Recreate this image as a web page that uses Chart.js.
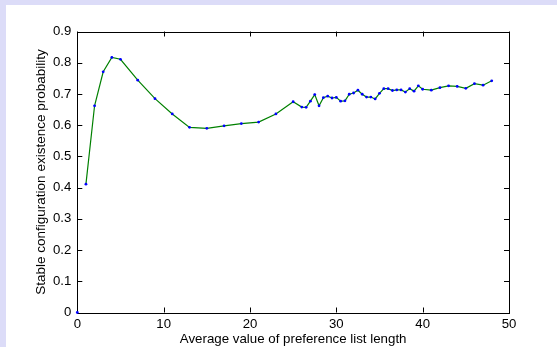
<!DOCTYPE html>
<html>
<head>
<meta charset="utf-8">
<script src="https://cdn.jsdelivr.net/npm/chart.js"></script>
<style>
  html, body { margin: 0; padding: 0; background: #dcdcf8; width: 557px; height: 347px; overflow: hidden; }
  #wrap { position: absolute; left: 6px; top: 5px; width: 551px; height: 342px; background: #fff; }
</style>
</head>
<body>
<div id="wrap"><canvas id="chart" width="551" height="342"></canvas></div>
<script>
// average preference list length (x) and probability (y)
const listLength = [1, 2, 3, 4, 5, 7, 9, 11, 13, 15, 17, 19, 21, 23, 25, 26, 26.5, 27, 27.5, 28,
  28.5, 29, 29.5, 30, 30.5, 31, 31.5, 32, 32.5, 33, 33.5, 34, 34.5, 35, 35.5, 36, 36.5, 37,
  37.5, 38, 38.5, 39, 39.5, 40, 41, 42, 43, 44, 45, 46, 47, 48];
const probability = [0.411, 0.662, 0.771, 0.817, 0.811, 0.744, 0.685, 0.636, 0.593, 0.590, 0.598,
  0.605, 0.610, 0.636, 0.675, 0.658, 0.657, 0.677, 0.698, 0.662, 0.688, 0.693, 0.687, 0.689,
  0.677, 0.678, 0.699, 0.703, 0.712, 0.699, 0.690, 0.690, 0.684, 0.702, 0.717, 0.717, 0.711,
  0.713, 0.713, 0.706, 0.717, 0.709, 0.726, 0.715, 0.712, 0.720, 0.726, 0.724, 0.718, 0.733,
  0.728, 0.742];
// lone marker at the origin
const originX = [0];
const originY = [0];

const xTicks = [0, 10, 20, 30, 40, 50];
const yTicks = [0, 0.1, 0.2, 0.3, 0.4, 0.5, 0.6, 0.7, 0.8, 0.9];

const FONT = "'Liberation Sans', Arial, Helvetica, sans-serif";

// box around plot + inward tick marks on all four sides
const boxTicks = {
  id: 'boxTicks',
  beforeDatasetsDraw(chart) {
    const { ctx, chartArea: a, scales: { x, y } } = chart;
    const len = 5;
    ctx.save();
    ctx.strokeStyle = '#000';
    ctx.lineWidth = 1;
    ctx.strokeRect(Math.round(a.left) + 0.5, Math.round(a.top) + 0.5,
      Math.round(a.right - a.left), Math.round(a.bottom - a.top));
    ctx.beginPath();
    xTicks.forEach(v => {
      const px = Math.round(x.getPixelForValue(v)) + 0.5;
      ctx.moveTo(px, a.bottom); ctx.lineTo(px, a.bottom - len);
      ctx.moveTo(px, a.top); ctx.lineTo(px, a.top + len);
    });
    yTicks.forEach(v => {
      const py = Math.round(y.getPixelForValue(v)) + 0.5;
      ctx.moveTo(a.left, py); ctx.lineTo(a.left + len, py);
      ctx.moveTo(a.right, py); ctx.lineTo(a.right - len, py);
    });
    ctx.stroke();
    ctx.restore();
  }
};

const ctx = document.getElementById('chart').getContext('2d');
new Chart(ctx, {
  type: 'line',
  data: {
    datasets: [
      {
        data: listLength.map((v, i) => ({ x: v, y: probability[i] })),
        borderColor: '#008000',
        borderWidth: 1.2,
        pointBackgroundColor: '#0000ff',
        pointBorderWidth: 0,
        pointRadius: 1.4,
        tension: 0,
        fill: false
      },
      {
        data: originX.map((v, i) => ({ x: v, y: originY[i] })),
        showLine: false,
        pointBackgroundColor: '#0000ff',
        pointBorderWidth: 0,
        pointRadius: 1.4,
        clip: false
      }
    ]
  },
  options: {
    responsive: false,
    animation: false,
    devicePixelRatio: 1,
    layout: { padding: { top: 26.5, right: 48, left: 0, bottom: 0 } },
    plugins: { legend: { display: false }, tooltip: { enabled: false } },
    scales: {
      x: {
        type: 'linear',
        min: 0, max: 50,
        afterFit(s) { s.height = 34.5; },
        afterBuildTicks(s) { s.ticks = xTicks.map(v => ({ value: v })); },
        grid: { display: false, drawTicks: false, tickLength: 0 },
        border: { display: false },
        ticks: { color: '#000', padding: 4, font: { family: FONT, size: 13.2 } },
        title: {
          display: true,
          text: 'Average value of preference list length',
          color: '#000',
          font: { family: FONT, size: 13.3 },
          padding: { top: 0, bottom: 0 }
        }
      },
      y: {
        type: 'linear',
        min: 0, max: 0.9,
        afterFit(s) { s.width = 71.3; },
        afterBuildTicks(s) { s.ticks = yTicks.map(v => ({ value: v })); },
        grid: { display: false, drawTicks: false, tickLength: 0 },
        border: { display: false },
        ticks: {
          color: '#000', padding: 6, font: { family: FONT, size: 13.2 },
          callback: v => (v === 0 ? '0' : v.toFixed(1))
        },
        title: {
          display: true,
          text: 'Stable configuration existence probability',
          color: '#000',
          font: { family: FONT, size: 13.5 },
          padding: { top: 27.4, bottom: 0 }
        }
      }
    }
  },
  plugins: [boxTicks]
});
</script>
</body>
</html>
